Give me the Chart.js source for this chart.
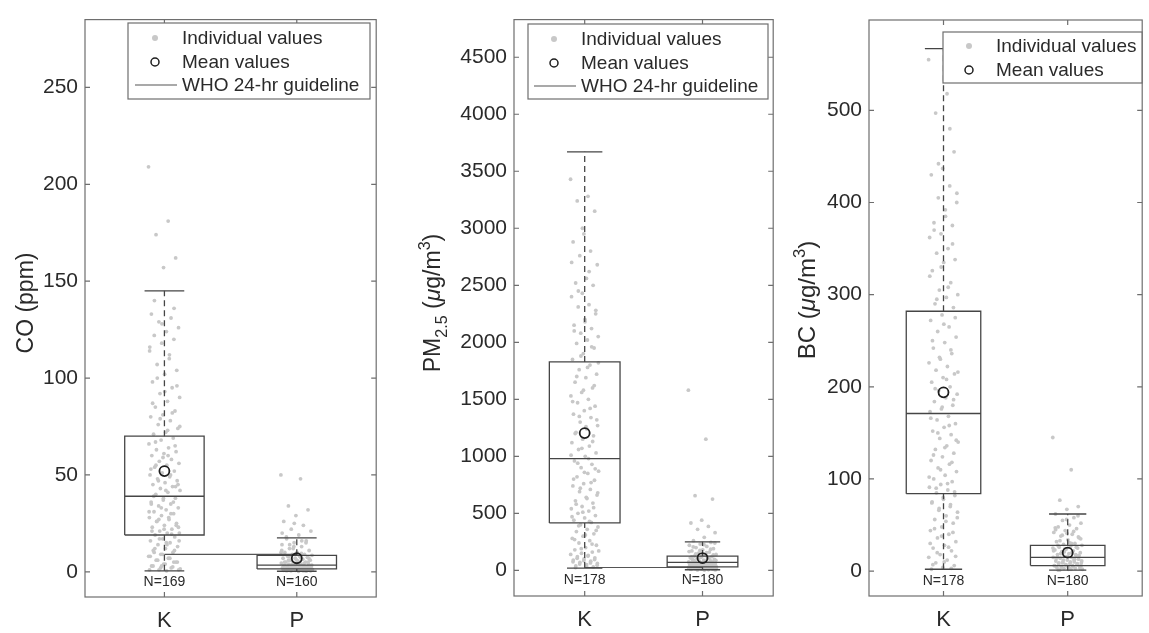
<!DOCTYPE html>
<html><head><meta charset="utf-8">
<script src="https://cdn.jsdelivr.net/npm/chart.js@4.4.1/dist/chart.umd.min.js"></script>
<style>
html,body{margin:0;padding:0;background:#fff;width:1149px;height:633px;overflow:hidden}
.p{position:absolute;top:0;height:633px}
</style></head><body>
<div class="p" style="left:0;width:383px"><canvas id="c1"></canvas></div>
<div class="p" style="left:400px;width:380px"><canvas id="c2"></canvas></div>
<div class="p" style="left:780px;width:369px"><canvas id="c3"></canvas></div>
<script>
// ---------- data ----------
const groups = ['K', 'P'];
const legendLabels = ['Individual values', 'Mean values', 'WHO 24-hr guideline'];

// CO (ppm)
const coK = [209,181,174,162,157,133,131,129,126,124,122,120,118,114,110,107,104,102,
  98,95,92,90,88,85,83,81,80,78,76,74,72,71,
  69,68,66,64,63,62,61,60,58,57,56,55,54,52,51,50,49,48,47,46,45,44,43,42,41,40,
  38,37,36,35,34,33,32,31,30,29,28,27,26,25,24,23,22,21,20,20,19,
  18,17,16,15,14,13,12,11,10,9,8,7,6,5,4,3,2,1,1,0.5,
  140,136,128,116,112,100,96,93,87,82,79,75,73,67,65,59,53,50,47,45,42,39,36,33,31,28,26,24,22,21,
  19.5,17,16,14,12,11,9,8,7,6,5,4,3,2.5,2,1.5,60,55,44,38,35,30,27,23,15,10,5,3,1];
const coP = [50,48,34,32,29,26,24,22,21,19,17,16,15,14,13,12,11,10,10,9,9,8.5,8,8,7.5,7,7,6.5,6,6,
  5.5,5,5,4.5,4.5,4,4,4,3.5,3.5,3.5,3,3,3,2.5,2.5,2.5,2,2,2,2,1.8,1.5,1.5,1.5,1.2,1,1,1,0.8,0.8,0.5,0.5,0.5,0.3,
  18,15,13,11,9.5,8,7,6,5,4.5,4,3.5,3,3,2.5,2,2,1.5,1.5,1,1,0.8,0.5,12,10,7.5,6,5,4,3.2,2.8,2.2,1.8,1.2,0.6,0.4,
  25,20,16,14];
const coQ1 = [19, 1.5];
const coMed = [39, 3.5];
const coQ3 = [70, 8.5];
const coLow = [0.5, 0.3];
const coHigh = [145, 17.5];
const coMean = [52, 7];
const coN = [169, 160];
const coWHO = 9;
const coTicks = [0, 50, 100, 150, 200, 250];

// PM2.5 (ug/m3)
const pmK = [3430,3280,3240,3150,2950,2880,2800,2760,2680,2560,2520,2500,2430,2400,2330,2310,2250,2200,2150,2120,2080,2050,2020,1990,1950,1900,1850,
  1800,1760,1720,1690,1650,1600,1560,1530,1500,1470,1440,1400,1370,1340,1300,1270,1240,1210,1180,1150,1120,1090,1060,1030,1000,
  960,930,900,870,850,820,790,760,740,710,690,660,640,610,590,560,540,520,500,480,460,440,420,
  400,380,360,340,320,300,280,260,240,220,200,180,160,150,140,130,120,110,100,90,80,70,60,50,40,30,
  3000,2700,2620,2450,2280,2180,2100,1960,1880,1820,1780,1700,1620,1580,1480,1420,1350,1320,1260,1200,1130,1070,1010,980,940,
  890,860,800,770,720,680,630,580,550,510,470,430,390,350,310,270,230,190,170,125,105,95,85,75,65,55,45,35,25];
const pmP = [1580,1150,655,625,440,415,385,360,330,290,260,245,230,220,210,200,190,180,170,160,150,140,130,125,120,115,110,105,100,95,
  90,85,80,78,75,72,70,68,65,62,60,58,55,52,50,48,45,42,40,38,35,32,30,28,25,22,20,18,15,12,10,8,5,
  240,225,205,185,175,165,155,145,135,128,118,108,98,88,82,76,71,66,61,56,51,46,41,36,31,27,23,19,16,13,11,9,7,6,4,3,
  90,80,70,60,50,40,30,20,100,65,45,33];
const pmQ1 = [416, 30];
const pmMed = [979, 70];
const pmQ3 = [1828, 125];
const pmLow = [20, 5];
const pmHigh = [3670, 250];
const pmMean = [1204, 108];
const pmN = [178, 180];
const pmWHO = 25;
const pmTicks = [0, 500, 1000, 1500, 2000, 2500, 3000, 3500, 4000, 4500];

// BC (ug/m3)
const bcK = [555,518,497,455,437,430,418,405,400,392,378,375,366,362,350,345,338,335,326,313,305,300,297,290,286,
  278,272,265,260,254,248,242,236,230,226,222,218,214,210,205,200,196,192,188,184,180,176,173,
  168,164,160,156,152,148,144,140,136,132,128,124,120,116,112,108,104,100,97,94,91,88,85,
  82,78,75,72,68,64,60,56,52,48,44,40,36,32,28,25,22,18,15,12,9,6,4,2,
  480,442,410,385,370,355,330,320,308,295,275,268,250,240,232,216,208,198,186,178,166,158,150,142,134,
  126,118,110,102,95,90,86,80,74,70,66,58,54,46,42,38,30,26,20,16,10,7,3];
const bcP = [145,110,77,70,67,62,58,55,52,50,48,46,44,42,40,38,36,34,32,30,29,28,27,26,25,24,23,22,21,20,
  19,18,17,16,15,15,14,13,12,11,10,10,9,8,8,7,7,6,6,5,5,4,4,3,3,2,2,1,
  60,56,47,43,39,35,31,28,26,24,22,20,19,17,16,14,13,12,11,10,9,8,7,6,5,4,3,2,15,18,21,25,30,33,37,41,45,12,9,6,3,1];
const bcQ1 = [84, 6];
const bcMed = [171, 15];
const bcQ3 = [282, 28];
const bcLow = [2, 1];
const bcHigh = [567, 62];
const bcMean = [194, 20];
const bcN = [178, 180];
const bcTicks = [0, 100, 200, 300, 400, 500];

// ---------- drawing ----------
const FONT = "'Liberation Sans', Arial, Helvetica, sans-serif";
const DARK = '#2a2a2a';
const LINE = '#454545';
const FRAME = '#6e6e6e';
const DOT = '#c8c8c8';

function jit(i) { return (((i * 0.6180339887) % 1) - 0.5) * 0.24; }

function buildDatasets(vals, q1, med, q3, lo, hi, mean, who) {
  const ds = [];
  vals.forEach((arr, g) => {
    ds.push({ type: 'scatter', data: arr.map((v, i) => ({ x: g + 1 + jit(i), y: v })),
      pointRadius: 1.9, pointHoverRadius: 1.9, backgroundColor: DOT, borderWidth: 0, order: 5 });
  });
  const wh = [], caps = [], box = [];
  [0, 1].forEach(g => {
    const c = g + 1;
    wh.push({ x: c, y: q3[g] }, { x: c, y: hi[g] }, { x: c, y: null }, { x: c, y: lo[g] }, { x: c, y: q1[g] }, { x: c, y: null });
    caps.push({ x: c - 0.15, y: hi[g] }, { x: c + 0.15, y: hi[g] }, { x: c, y: null },
              { x: c - 0.15, y: lo[g] }, { x: c + 0.15, y: lo[g] }, { x: c, y: null });
    box.push({ x: c - 0.3, y: q1[g] }, { x: c + 0.3, y: q1[g] }, { x: c + 0.3, y: q3[g] }, { x: c - 0.3, y: q3[g] }, { x: c - 0.3, y: q1[g] }, { x: c, y: null },
             { x: c - 0.3, y: med[g] }, { x: c + 0.3, y: med[g] }, { x: c, y: null });
  });
  const lineBase = { type: 'line', pointRadius: 0, pointHoverRadius: 0, fill: false, spanGaps: false, borderColor: LINE, borderWidth: 1.3, order: 2 };
  ds.push(Object.assign({}, lineBase, { data: wh, borderDash: [6, 4] }));
  ds.push(Object.assign({}, lineBase, { data: caps }));
  ds.push(Object.assign({}, lineBase, { data: box }));
  if (who !== null) ds.push(Object.assign({}, lineBase, { data: [{ x: 1, y: who }, { x: 2, y: who }], borderColor: '#555', borderWidth: 1.2 }));
  ds.push({ type: 'scatter', data: mean.map((m, g) => ({ x: g + 1, y: m })), pointRadius: 5, pointHoverRadius: 5,
    borderColor: '#1e1e1e', borderWidth: 1.8, backgroundColor: 'rgba(0,0,0,0)', order: 0 });
  return ds;
}

function drawRich(ctx, segs, size) {
  const parts = segs.map(s => {
    const fs = (s.sub || s.sup) ? size * 0.7 : size;
    const font = (s.it ? 'italic ' : '') + fs + 'px ' + FONT;
    ctx.font = font;
    return { t: s.t, font, w: ctx.measureText(s.t).width, dy: s.sub ? size * 0.3 : (s.sup ? -size * 0.42 : 0) };
  });
  const total = parts.reduce((a, p) => a + p.w, 0);
  let x = -total / 2;
  parts.forEach(p => { ctx.font = p.font; ctx.fillText(p.t, x, p.dy); x += p.w; });
}

function makePanel(id, o) {
  const panelPlugin = {
    id: 'panel' + id,
    afterDraw(chart) {
      const { ctx, chartArea: a, scales: { x, y } } = chart;
      ctx.save();
      ctx.strokeStyle = FRAME; ctx.lineWidth = 1.2;
      ctx.strokeRect(a.left, a.top, a.right - a.left, a.bottom - a.top);
      ctx.beginPath();
      o.ticks.forEach(v => {
        const py = y.getPixelForValue(v);
        ctx.moveTo(a.left, py); ctx.lineTo(a.left + 5, py);
        ctx.moveTo(a.right, py); ctx.lineTo(a.right - 5, py);
      });
      [1, 2].forEach(v => {
        const px = x.getPixelForValue(v);
        ctx.moveTo(px, a.bottom); ctx.lineTo(px, a.bottom - 5);
        ctx.moveTo(px, a.top); ctx.lineTo(px, a.top + 5);
      });
      ctx.stroke();
      ctx.fillStyle = DARK; ctx.font = '14px ' + FONT; ctx.textAlign = 'center'; ctx.textBaseline = 'middle';
      o.n.forEach((n, g) => ctx.fillText('N=' + n, x.getPixelForValue(g + 1), y.getPixelForValue(0) + 10));
      const L = o.legend;
      ctx.fillStyle = '#fff'; ctx.fillRect(L.l, L.t, L.r - L.l, L.b - L.t);
      ctx.strokeStyle = FRAME; ctx.lineWidth = 1.2; ctx.strokeRect(L.l, L.t, L.r - L.l, L.b - L.t);
      ctx.textAlign = 'left'; ctx.textBaseline = 'middle'; ctx.font = '19px ' + FONT;
      L.rows.forEach((ry, k) => {
        if (k === 0) { ctx.fillStyle = DOT; ctx.beginPath(); ctx.arc(L.mx, ry, 3, 0, Math.PI * 2); ctx.fill(); }
        if (k === 1) { ctx.strokeStyle = '#1e1e1e'; ctx.lineWidth = 1.5; ctx.beginPath(); ctx.arc(L.mx, ry, 4, 0, Math.PI * 2); ctx.stroke(); }
        if (k === 2) { ctx.strokeStyle = '#555'; ctx.lineWidth = 1.2; ctx.beginPath(); ctx.moveTo(L.mx - 20, ry); ctx.lineTo(L.mx + 22, ry); ctx.stroke(); }
        ctx.fillStyle = DARK; ctx.fillText(legendLabels[k], L.tx, ry + 1);
      });
      ctx.fillStyle = DARK; ctx.textBaseline = 'alphabetic'; ctx.textAlign = 'left';
      ctx.translate(o.titleX, o.titleY); ctx.rotate(-Math.PI / 2);
      drawRich(ctx, o.title, o.titleSize);
      ctx.restore();
    }
  };
  return new Chart(document.getElementById(id), {
    data: { datasets: buildDatasets(o.vals, o.q1, o.med, o.q3, o.lo, o.hi, o.mean, o.who) },
    options: {
      responsive: true, maintainAspectRatio: false, animation: false,
      layout: { padding: { top: o.padTop, right: o.padRight, left: 0, bottom: 0 } },
      plugins: { legend: { display: false }, tooltip: { enabled: false } },
      scales: {
        x: {
          type: 'linear', min: 0.4, max: 2.6,
          afterBuildTicks: s => { s.ticks = [1, 2].map(v => ({ value: v })); },
          afterFit: s => { s.height = o.xH; },
          ticks: { callback: v => groups[Math.round(v) - 1], font: { size: 22, family: FONT }, color: DARK, padding: 11 },
          grid: { display: false, drawTicks: false }, border: { display: false }
        },
        y: {
          type: 'linear', min: o.min, max: o.max,
          afterBuildTicks: s => { s.ticks = o.ticks.map(v => ({ value: v })); },
          afterFit: s => { s.width = o.yW; },
          ticks: { callback: v => String(v), font: { size: 21, family: FONT }, color: DARK, padding: 7 },
          grid: { display: false, drawTicks: false }, border: { display: false }
        }
      }
    },
    plugins: [panelPlugin]
  });
}

makePanel('c1', {
  vals: [coK, coP], q1: coQ1, med: coMed, q3: coQ3, lo: coLow, hi: coHigh, mean: coMean, who: coWHO, n: coN, ticks: coTicks,
  min: -13, max: 285, yW: 85, xH: 36, padTop: 10, padRight: 4,
  legend: { l: 128, t: 23, r: 370, b: 99, rows: [38, 62, 85], mx: 155, tx: 182 },
  title: [{ t: 'CO (ppm)' }], titleSize: 23, titleX: 33, titleY: 303
});
makePanel('c2', {
  vals: [pmK, pmP], q1: pmQ1, med: pmMed, q3: pmQ3, lo: pmLow, hi: pmHigh, mean: pmMean, who: pmWHO, n: pmN, ticks: pmTicks,
  min: -225, max: 4830, yW: 114, xH: 37, padTop: 13, padRight: 3,
  legend: { l: 128, t: 24, r: 368, b: 99, rows: [39, 63, 86], mx: 154, tx: 181 },
  title: [{ t: 'PM' }, { t: '2.5', sub: true }, { t: ' (' }, { t: 'μ', it: true }, { t: 'g/m' }, { t: '3', sup: true }, { t: ')' }],
  titleSize: 23, titleX: 40, titleY: 303
});
makePanel('c3', {
  vals: [bcK, bcP], q1: bcQ1, med: bcMed, q3: bcQ3, lo: bcLow, hi: bcHigh, mean: bcMean, who: null, n: bcN, ticks: bcTicks,
  min: -27, max: 598, yW: 89, xH: 37, padTop: 20, padRight: 1,
  legend: { l: 163, t: 32, r: 362, b: 83, rows: [46, 70], mx: 189, tx: 216 },
  title: [{ t: 'BC (' }, { t: 'μ', it: true }, { t: 'g/m' }, { t: '3', sup: true }, { t: ')' }],
  titleSize: 24, titleX: 35, titleY: 300
});
</script>
</body></html>
